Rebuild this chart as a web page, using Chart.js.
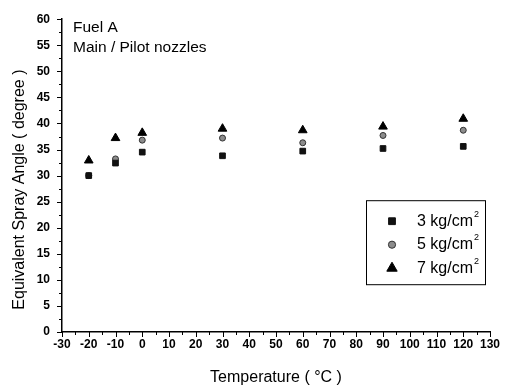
<!DOCTYPE html>
<html>
<head>
<meta charset="utf-8">
<script src="https://cdn.jsdelivr.net/npm/chart.js@4"></script>
<style>
  html, body { margin: 0; padding: 0; background: #fff; }
  canvas { display: block; }
</style>
</head>
<body>
<canvas id="sprayChart" width="508" height="390"></canvas>
<script>
const temps = [-20, -10, 0, 30, 60, 90, 120];
const angle3 = [30.0, 32.4, 34.5, 33.8, 34.7, 35.2, 35.6];
const angle5 = [30.0, 33.2, 36.8, 37.2, 36.3, 37.7, 38.7];
const angle7 = [32.9, 37.2, 38.2, 39.0, 38.7, 39.4, 40.9];
const seriesLabels = ['3 kg/cm', '5 kg/cm', '7 kg/cm'];
const xMin = -30, xMax = 130, xStep = 10;
const yMin = 0, yMax = 60, yStep = 5;

const FONT = '"Liberation Sans", Arial, sans-serif';

function toPoints(values) {
  return temps.map((t, i) => ({ x: t, y: values[i] }));
}

// axis ticks (major + minor), y title, the boxed legend and the note text
const decorPlugin = {
  id: 'decor',
  afterDraw(chart) {
    const ctx = chart.ctx;
    const xs = chart.scales.x;
    const ys = chart.scales.y;
    const area = chart.chartArea;
    ctx.save();
    ctx.strokeStyle = '#000';
    ctx.lineWidth = 1;

    for (let v = xMin; v <= xMax; v += xStep / 2) {
      const px = Math.round(xs.getPixelForValue(v)) + 0.5;
      const len = (v - xMin) % xStep === 0 ? 5 : 3;
      ctx.beginPath();
      ctx.moveTo(px, area.bottom);
      ctx.lineTo(px, area.bottom + len);
      ctx.stroke();
    }
    for (let v = yMin; v <= yMax; v += yStep / 2) {
      const py = Math.round(ys.getPixelForValue(v)) + 0.5;
      const len = v % yStep === 0 ? 5 : 3;
      ctx.beginPath();
      ctx.moveTo(area.left, py);
      ctx.lineTo(area.left - len, py);
      ctx.stroke();
    }

    // y axis title, sits a bit below the middle in the original
    ctx.save();
    ctx.translate(19.5, area.top + (area.bottom - area.top) / 2 + 14);
    ctx.rotate(-Math.PI / 2);
    ctx.fillStyle = '#000';
    ctx.font = '16px ' + FONT;
    ctx.textAlign = 'center';
    ctx.textBaseline = 'middle';
    ctx.fillText('Equivalent Spray Angle ( degree )', 0, 0);
    ctx.restore();

    // notes top-left
    ctx.fillStyle = '#000';
    ctx.font = '15.5px ' + FONT;
    ctx.textAlign = 'left';
    ctx.textBaseline = 'middle';
    ctx.fillText('Fuel A', area.left + 11, area.top + 9);
    ctx.fillText('Main / Pilot nozzles', area.left + 11, area.top + 29);

    // legend box
    const bx = area.left + 304, by = area.top + 181, bw = 119, bh = 84;
    ctx.strokeRect(bx + 0.5, by + 0.5, bw, bh);
    chart.data.datasets.forEach((ds, i) => {
      const cy = by + 21 + i * 23.5;
      ctx.fillStyle = ds.backgroundColor;
      ctx.strokeStyle = ds.borderColor;
      ctx.lineWidth = ds.borderWidth;
      Chart.helpers.drawPoint(ctx, {
        pointStyle: ds.pointStyle,
        radius: ds.pointRadius * 1.2,
        borderWidth: ds.borderWidth
      }, bx + 26, cy);
      ctx.fillStyle = '#000';
      ctx.font = '16px ' + FONT;
      ctx.textAlign = 'left';
      ctx.textBaseline = 'middle';
      ctx.fillText(seriesLabels[i], bx + 51, cy);
      const w = ctx.measureText(seriesLabels[i]).width;
      ctx.font = '9px ' + FONT;
      ctx.fillText('2', bx + 52 + w, cy - 7);
    });
    ctx.restore();
  }
};

new Chart(document.getElementById('sprayChart'), {
  type: 'scatter',
  data: {
    datasets: [
      {
        label: seriesLabels[0],
        data: toPoints(angle3),
        pointStyle: 'rect',
        pointRadius: 4,
        backgroundColor: '#111',
        borderColor: '#111',
        borderWidth: 1
      },
      {
        label: seriesLabels[1],
        data: toPoints(angle5),
        pointStyle: 'circle',
        pointRadius: 3,
        backgroundColor: '#8c8c8c',
        borderColor: '#333',
        borderWidth: 1
      },
      {
        label: seriesLabels[2],
        data: toPoints(angle7),
        pointStyle: 'triangle',
        pointRadius: 5,
        backgroundColor: '#000',
        borderColor: '#000',
        borderWidth: 1
      }
    ]
  },
  options: {
    responsive: false,
    animation: false,
    layout: { padding: { top: 14, right: 18, left: 0, bottom: 0 } },
    plugins: {
      legend: { display: false },
      tooltip: { enabled: false }
    },
    scales: {
      x: {
        type: 'linear',
        min: xMin,
        max: xMax,
        afterFit(scale) { scale.height = 58; },
        ticks: {
          stepSize: xStep,
          padding: 5,
          color: '#000',
          font: { family: FONT, size: 12, weight: 'bold' }
        },
        grid: { display: false, drawTicks: false },
        border: { display: true, color: '#000', width: 1.5 },
        title: {
          display: true,
          text: 'Temperature ( °C )',
          color: '#000',
          font: { family: FONT, size: 16 },
          padding: { top: 0, bottom: 3 }
        }
      },
      y: {
        type: 'linear',
        min: yMin,
        max: yMax,
        afterFit(scale) { scale.width = 62; },
        ticks: {
          stepSize: yStep,
          padding: 12,
          color: '#000',
          font: { family: FONT, size: 12, weight: 'bold' }
        },
        grid: { display: false, drawTicks: false },
        border: { display: true, color: '#000', width: 1.5 },
        title: { display: false }
      }
    }
  },
  plugins: [decorPlugin]
});
</script>
</body>
</html>
